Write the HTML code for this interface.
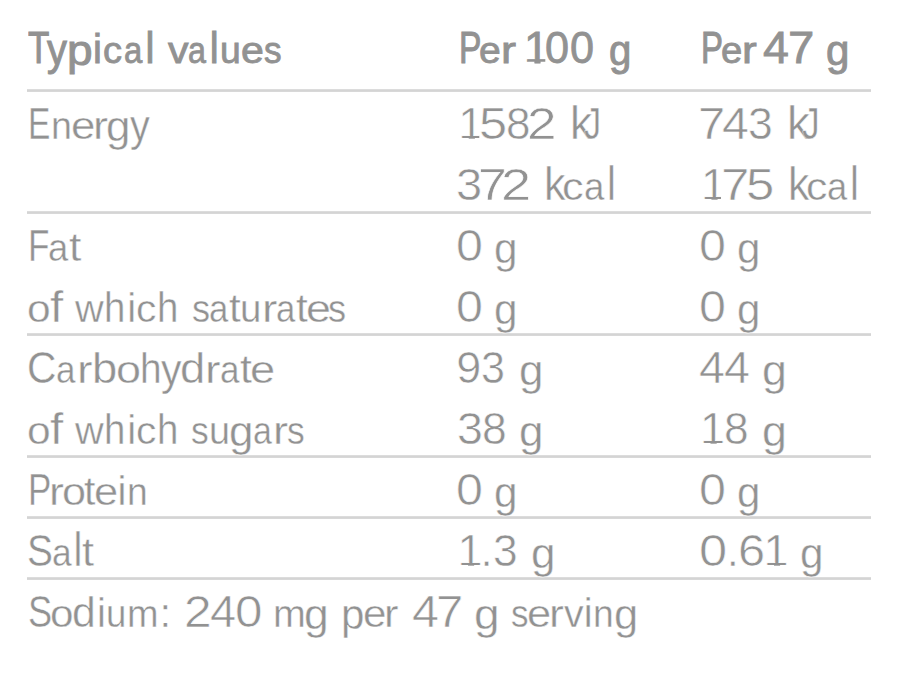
<!DOCTYPE html>
<html lang="en"><head><meta charset="utf-8"><title>Nutrition information</title><style>
html,body{margin:0;padding:0;background:#fff}
body{width:900px;height:700px;overflow:hidden;position:relative;font-family:"Liberation Sans",Arial,sans-serif;color:#929292}
.t{position:absolute;margin:0;white-space:nowrap;font-size:40px;line-height:60px;font-weight:normal;-webkit-text-stroke:0.4px #fff}
.t.h{-webkit-text-stroke:0.9px #929292}
.t i{display:inline-block;font-style:normal;line-height:40px;transform-origin:0 33.86px}
.t i.c{font-size:45px;-webkit-text-stroke:0.4px #fff}
.t i.d{-webkit-text-stroke:0.6px #fff}
.t.h i.c{-webkit-text-stroke:1.1px #929292}
.t.h i.d{-webkit-text-stroke:0.8px #929292}
.t i.o{clip-path:polygon(0 0,100% 0,100% 34px,16.5px 34px,16.5px 100%,10.5px 100%,10.5px 34px,0 34px)}
.t s{font-size:0;text-decoration:none}
.l{position:absolute;left:27px;width:844px;height:3px;background:linear-gradient(#dcdcdc 0 1px,#d4d4d4 1px 2px,#d8d8d8 2px 3px)}
</style></head><body>
<div class="l" style="top:89px"></div>
<div class="l" style="top:211px"></div>
<div class="l" style="top:333px"></div>
<div class="l" style="top:455px"></div>
<div class="l" style="top:516px"></div>
<div class="l" style="top:577px"></div>
<p class="t h" style="left:28.0px;top:18.8px"><i class="c" style="width:18.9px;transform:scaleX(0.775)">T</i><i style="width:20.3px;transform:scale(0.996,1.100);transform-origin:0 12.7px">y</i><i style="width:25.8px;transform:translateY(1.0px) scale(1.151,1.060);transform-origin:0 12.7px">p</i><i style="width:10.4px">i</i><i style="width:20.4px;transform:scale(0.951,0.920)">c</i><i style="width:21.7px;transform:scale(0.821,0.920)">a</i><i style="width:22.5px;transform:scale(1.000,1.130)">l</i><s> </s><i style="width:20.5px;transform:scale(1.026,0.920)">v</i><i style="width:21.2px;transform:scale(0.806,0.920)">a</i><i style="width:10.4px;transform:scale(1.000,1.130)">l</i><i style="width:21.3px;transform:scale(0.933,0.920)">u</i><i style="width:22.3px;transform:scale(1.026,0.920)">e</i><i style="transform:scale(0.881,0.920)">s</i></p>
<p class="t h" style="left:458.5px;top:18.8px"><i class="c" style="width:20.9px;transform:scaleX(0.746)">P</i><i style="width:21.5px;transform:scale(0.977,0.920)">e</i><i style="width:23.1px;transform:scale(1.130,0.920)">r</i><s> </s><i class="c d o" style="width:21.3px">1</i><i class="c d" style="width:24.3px;transform:scaleX(0.961)">0</i><i class="c d" style="width:39.8px;transform:scaleX(0.961)">0</i><s> </s><i style="transform:translateY(1.0px) scale(1.005,1.060);transform-origin:0 12.7px">g</i></p>
<p class="t h" style="left:700.7px;top:18.8px"><i class="c" style="width:20.5px;transform:scaleX(0.731)">P</i><i style="width:21.1px;transform:scale(0.957,0.920)">e</i><i style="width:21.0px;transform:scale(1.108,0.920)">r</i><s> </s><i class="c d" style="width:24.3px;transform:scaleX(1.036)">4</i><i class="c d" style="width:38.7px;transform:scaleX(1.052)">7</i><s> </s><i style="transform:translateY(1.0px) scale(1.053,1.060);transform-origin:0 12.7px">g</i></p>
<p class="t" style="left:28.0px;top:95.0px"><i class="c" style="width:22.9px;transform:scaleX(0.745)">E</i><i style="width:20.5px;transform:scale(0.941,0.950)">n</i><i style="width:22.0px;transform:scale(1.098,0.950)">e</i><i style="width:12.9px;transform:scale(1.129,0.950)">r</i><i style="width:23.9px;transform:translateY(1.0px) scale(1.098,1.060);transform-origin:0 12.7px">g</i><i style="transform:scale(0.990,1.100);transform-origin:0 12.7px">y</i></p>
<p class="t" style="left:458.3px;top:95.0px"><i class="c d o" style="width:21.0px">1</i><i class="c d" style="width:26.8px;transform:scaleX(1.126)">5</i><i class="c d" style="width:21.0px;transform:scaleX(0.979)">8</i><i class="c d" style="width:42.7px;transform:scaleX(1.182)">2</i><s> </s><i style="width:14.5px;transform:scale(1.117,1.150)">k</i><i class="c" style="transform:scaleX(0.759)">J</i></p>
<p class="t" style="left:697.7px;top:95.0px"><i class="c d" style="width:24.0px;transform:scaleX(1.088)">7</i><i class="c d" style="width:26.5px;transform:scaleX(1.075)">4</i><i class="c d" style="width:38.9px;transform:scaleX(0.989)">3</i><s> </s><i style="width:15.0px;transform:scale(1.152,1.150)">k</i><i class="c" style="transform:scaleX(0.783)">J</i></p>
<p class="t" style="left:456.3px;top:156.0px"><i class="c d" style="width:22.0px;transform:scaleX(1.047)">3</i><i class="c d" style="width:23.0px;transform:scaleX(1.151)">7</i><i class="c d" style="width:43.0px;transform:scaleX(1.204)">2</i><s> </s><i style="width:18.1px;transform:scale(1.081,1.150)">k</i><i style="width:21.7px;transform:scale(1.077,0.950)">c</i><i style="width:22.9px;transform:scale(0.915,0.950)">a</i><i style="transform:scale(1.000,1.180)">l</i></p>
<p class="t" style="left:701.0px;top:156.0px"><i class="c d o" style="width:20.0px">1</i><i class="c d" style="width:25.0px;transform:scaleX(1.136)">7</i><i class="c d" style="width:41.8px;transform:scaleX(1.131)">5</i><s> </s><i style="width:17.9px;transform:scale(1.071,1.150)">k</i><i style="width:21.5px;transform:scale(1.067,0.950)">c</i><i style="width:22.7px;transform:scale(0.907,0.950)">a</i><i style="transform:scale(1.000,1.180)">l</i></p>
<p class="t" style="left:27.7px;top:217.0px"><i class="c" style="width:20.2px;transform:scaleX(0.781)">F</i><i style="width:21.1px;transform:scale(0.910,0.950)">a</i><i style="transform:scaleX(1.112)">t</i></p>
<p class="t" style="left:455.8px;top:217.0px"><i class="c d" style="width:37.8px;transform:scaleX(1.076)">0</i><s> </s><i style="transform:translateY(1.0px) scale(1.056,1.060);transform-origin:0 12.7px">g</i></p>
<p class="t" style="left:698.8px;top:217.0px"><i class="c d" style="width:38.0px;transform:scaleX(1.076)">0</i><s> </s><i style="transform:translateY(1.0px) scale(1.050,1.060);transform-origin:0 12.7px">g</i></p>
<p class="t" style="left:26.9px;top:278.0px"><i style="width:23.0px;transform:scale(1.064,0.950)">o</i><i style="width:25.1px;transform:scale(1.194,1.120)">f</i><s> </s><i style="width:28.7px;transform:scale(0.994,0.950)">w</i><i style="width:23.5px;transform:scale(0.961,1.080)">h</i><i style="width:8.7px">i</i><i style="width:21.3px;transform:scale(1.018,0.950)">c</i><i style="width:34.6px;transform:scale(0.961,1.080)">h</i><s> </s><i style="width:17.1px;transform:scale(0.905,0.950)">s</i><i style="width:20.1px;transform:scale(0.866,0.950)">a</i><i style="width:11.2px;transform:scaleX(1.058)">t</i><i style="width:21.6px;transform:scale(0.962,0.950)">u</i><i style="width:14.3px;transform:scale(1.154,0.950)">r</i><i style="width:20.1px;transform:scale(0.866,0.950)">a</i><i style="width:9.9px;transform:scaleX(1.058)">t</i><i style="width:22.2px;transform:scale(1.122,0.950)">e</i><i style="transform:scale(0.905,0.950)">s</i></p>
<p class="t" style="left:455.8px;top:278.0px"><i class="c d" style="width:37.8px;transform:scaleX(1.076)">0</i><s> </s><i style="transform:translateY(1.0px) scale(1.056,1.060);transform-origin:0 12.7px">g</i></p>
<p class="t" style="left:698.8px;top:278.0px"><i class="c d" style="width:38.0px;transform:scaleX(1.076)">0</i><s> </s><i style="transform:translateY(1.0px) scale(1.050,1.060);transform-origin:0 12.7px">g</i></p>
<p class="t" style="left:27.2px;top:339.0px"><i class="c" style="width:29.3px;transform:scaleX(0.905)">C</i><i style="width:20.8px;transform:scale(0.875,0.950)">a</i><i style="width:14.8px;transform:scale(1.166,0.950)">r</i><i style="width:23.6px;transform:scale(1.134,1.080)">b</i><i style="width:24.6px;transform:scale(1.125,0.950)">o</i><i style="width:21.2px;transform:scale(0.972,1.080)">h</i><i style="width:18.5px;transform:scale(1.023,1.100);transform-origin:0 12.7px">y</i><i style="width:25.1px;transform:scale(1.134,1.080)">d</i><i style="width:14.5px;transform:scale(1.166,0.950)">r</i><i style="width:20.3px;transform:scale(0.875,0.950)">a</i><i style="width:10.0px;transform:scaleX(1.069)">t</i><i style="transform:scale(1.134,0.950)">e</i></p>
<p class="t" style="left:456.2px;top:339.0px"><i class="c d" style="width:24.4px">9</i><i class="c d" style="width:38.2px;transform:scaleX(0.958)">3</i><s> </s><i style="transform:translateY(1.0px) scale(1.100,1.060);transform-origin:0 12.7px">g</i></p>
<p class="t" style="left:699.2px;top:339.0px"><i class="c d" style="width:24.5px;transform:scaleX(1.037)">4</i><i class="c d" style="width:38.0px;transform:scaleX(1.037)">4</i><s> </s><i style="transform:translateY(1.0px) scale(1.117,1.060);transform-origin:0 12.7px">g</i></p>
<p class="t" style="left:26.9px;top:400.0px"><i style="width:23.0px;transform:scale(1.064,0.950)">o</i><i style="width:25.1px;transform:scale(1.194,1.120)">f</i><s> </s><i style="width:28.7px;transform:scale(0.994,0.950)">w</i><i style="width:23.5px;transform:scale(0.961,1.080)">h</i><i style="width:8.7px">i</i><i style="width:21.3px;transform:scale(1.018,0.950)">c</i><i style="width:34.1px;transform:scale(0.961,1.080)">h</i><s> </s><i style="width:17.5px;transform:scale(0.887,0.950)">s</i><i style="width:20.5px;transform:scale(0.943,0.950)">u</i><i style="width:24.1px;transform:translateY(1.0px) scale(1.100,1.060);transform-origin:0 12.7px">g</i><i style="width:20.1px;transform:scale(0.849,0.950)">a</i><i style="width:14.0px;transform:scale(1.131,0.950)">r</i><i style="transform:scale(0.887,0.950)">s</i></p>
<p class="t" style="left:456.5px;top:400.0px"><i class="c d" style="width:25.0px;transform:scaleX(1.036)">3</i><i class="c d" style="width:37.3px;transform:scaleX(0.987)">8</i><s> </s><i style="transform:translateY(1.0px) scale(1.100,1.060);transform-origin:0 12.7px">g</i></p>
<p class="t" style="left:700.1px;top:400.0px"><i class="c d o" style="width:23.9px">1</i><i class="c d" style="width:37.7px;transform:scaleX(0.984)">8</i><s> </s><i style="transform:translateY(1.0px) scale(1.117,1.060);transform-origin:0 12.7px">g</i></p>
<p class="t" style="left:27.6px;top:461.0px"><i class="c" style="width:21.4px;transform:scaleX(0.777)">P</i><i style="width:12.8px;transform:scale(1.119,0.950)">r</i><i style="width:22.6px;transform:scale(1.080,0.950)">o</i><i style="width:9.6px;transform:scaleX(1.026)">t</i><i style="width:23.5px;transform:scale(1.088,0.950)">e</i><i style="width:9.6px">i</i><i style="transform:scale(0.932,0.950)">n</i></p>
<p class="t" style="left:455.8px;top:461.0px"><i class="c d" style="width:37.8px;transform:scaleX(1.076)">0</i><s> </s><i style="transform:translateY(1.0px) scale(1.056,1.060);transform-origin:0 12.7px">g</i></p>
<p class="t" style="left:698.8px;top:461.0px"><i class="c d" style="width:38.0px;transform:scaleX(1.076)">0</i><s> </s><i style="transform:translateY(1.0px) scale(1.050,1.060);transform-origin:0 12.7px">g</i></p>
<p class="t" style="left:27.1px;top:522.0px"><i class="c" style="width:24.5px;transform:scaleX(0.864)">S</i><i style="width:22.0px;transform:scale(0.884,0.950)">a</i><i style="width:8.5px;transform:scale(1.000,1.180)">l</i><i style="transform:scaleX(1.080)">t</i></p>
<p class="t" style="left:457.6px;top:522.0px"><i class="c d o" style="width:23.5px">1</i><i style="width:11.6px">.</i><i class="c d" style="width:38.6px;transform:scaleX(0.985)">3</i><s> </s><i style="transform:translateY(1.0px) scale(1.100,1.060);transform-origin:0 12.7px">g</i></p>
<p class="t" style="left:698.7px;top:522.0px"><i class="c d" style="width:28.6px;transform:scaleX(1.125)">0</i><i style="width:10.3px">.</i><i class="c d" style="width:26.0px;transform:scaleX(1.083)">6</i><i class="c d o" style="width:36.3px">1</i><s> </s><i style="transform:translateY(1.0px) scale(1.056,1.060);transform-origin:0 12.7px">g</i></p>
<p class="t" style="left:27.6px;top:583.0px"><i class="c" style="width:22.3px;transform:scaleX(0.804)">S</i><i style="width:21.9px;transform:scale(1.058,0.950)">o</i><i style="width:25.1px;transform:scale(1.066,1.080)">d</i><i style="width:9.5px">i</i><i style="width:21.0px;transform:scale(0.914,0.950)">u</i><i style="width:32.3px;transform:scale(0.946,0.950)">m</i><i style="width:24.2px">:</i><s> </s><i class="c d" style="width:26.3px;transform:scaleX(1.105)">2</i><i class="c d" style="width:24.5px;transform:scaleX(1.044)">4</i><i class="c d" style="width:38.3px;transform:scaleX(1.098)">0</i><s> </s><i style="width:31.5px;transform:scale(0.985,0.950)">m</i><i style="width:36.6px;transform:translateY(1.0px) scale(1.109,1.060);transform-origin:0 12.7px">g</i><s> </s><i style="width:21.9px;transform:translateY(1.0px) scale(1.055,1.060);transform-origin:0 12.7px">p</i><i style="width:21.1px;transform:scale(1.055,0.950)">e</i><i style="width:28.0px;transform:scale(1.085,0.950)">r</i><s> </s><i class="c d" style="width:24.2px;transform:scaleX(1.077)">4</i><i class="c d" style="width:37.3px;transform:scaleX(1.090)">7</i><s> </s><i style="width:37.4px;transform:translateY(1.0px) scale(1.150,1.060);transform-origin:0 12.7px">g</i><s> </s><i style="width:16.1px;transform:scale(0.877,0.950)">s</i><i style="width:21.8px;transform:scale(1.087,0.950)">e</i><i style="width:14.9px;transform:scale(1.118,0.950)">r</i><i style="width:20.1px;transform:scale(0.981,0.950)">v</i><i style="width:9.6px">i</i><i style="width:20.3px;transform:scale(0.932,0.950)">n</i><i style="transform:translateY(1.0px) scale(1.087,1.060);transform-origin:0 12.7px">g</i></p>
</body></html>
